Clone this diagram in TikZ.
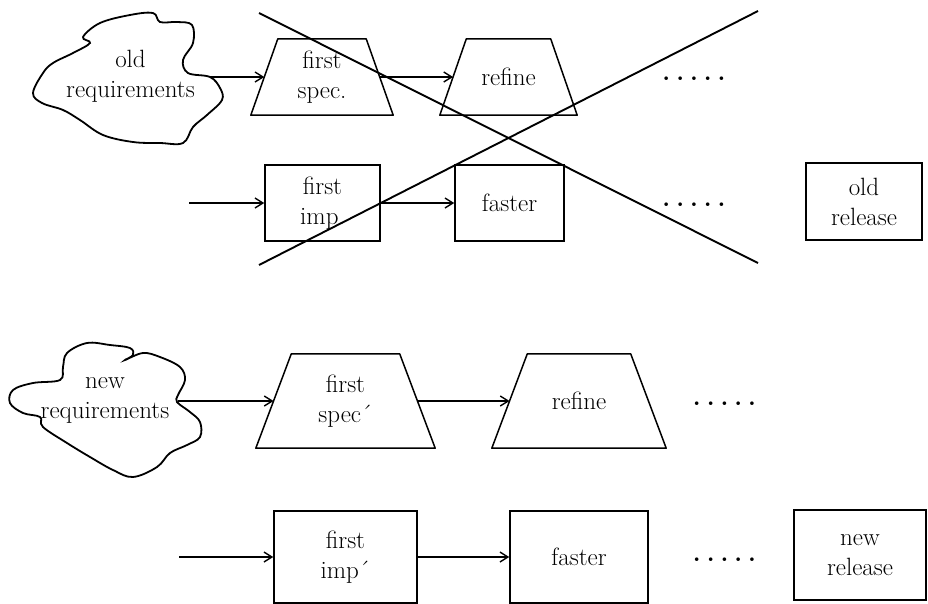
\documentclass[tikz,border=0pt]{standalone}
\usetikzlibrary{arrows.meta,calc}
\newcommand{\dotfive}{.\hspace{6pt}.\hspace{6pt}.\hspace{6pt}.\hspace{6pt}.}
\begin{document}
\begin{tikzpicture}[x=1pt,y=-1pt,
  lbl/.style={font=\fontsize{25}{30}\selectfont, align=center, inner sep=0pt},
  box/.style={lbl, draw, line width=1.5pt},
  trapline/.style={line width=1.5pt, line join=round},
  flow/.style={line width=1.4pt, -{Straight Barb[length=8pt,width=10pt]}},
  cross/.style={line width=1.9pt},
  blob/.style={line width=1.8pt},
  dotrow/.style={font=\fontsize{25}{30}\selectfont\bfseries, inner sep=0pt}]
\useasboundingbox (0,0) rectangle (928,603);

% clouds
\draw[blob] plot[smooth cycle, tension=0.6] coordinates {(83,37) (100,23) (130,15) (153,13) (160,22) (177,22) (192,25) (193,43) (183,60) (188,73) (210,77) (220,88) (222,100) (207,115) (193,127) (183,143) (160,143) (133,142) (103,135) (80,120) (63,110) (42,103) (33,93) (43,73) (53,63) (73,53) (90,43)};
\node[lbl] (oldreq) at (130.5,76) {old\\requirements};
\coordinate (oldout) at (210,77);

\draw[blob] plot[smooth cycle, tension=0.6] coordinates {(67,353) (87,343) (110,345) (130,348) (133,355) (125,360) (143,353) (160,357) (180,367) (185,380) (178,395) (177,402) (190,412) (200,422) (200,437) (187,445) (170,453) (157,467) (133,477) (113,470) (90,457) (67,443) (43,427) (40,417) (23,413) (10,403) (13,390) (33,383) (60,380) (63,367)};
\node[lbl] (newreq) at (105,400) {new\\requirements};
\coordinate (newout) at (178,401);

% trapezoid bodies
\node[lbl, minimum width=115pt, minimum height=76pt] (fs1) at (322,77) {first\\spec.};
\node[lbl, minimum width=110.5pt, minimum height=76pt] (rf1) at (508.5,77) {refine};
\node[lbl, minimum width=143.5pt, minimum height=94pt] (fs2) at (345.5,401) {first\\spec´};
\node[lbl, minimum width=138.5pt, minimum height=94pt] (rf2) at (579,401) {refine};
\foreach \n/\d in {fs1/13.5, rf1/13.25, fs2/17.75, rf2/17.75}
  \draw[trapline] ($(\n.south west)+(-\d pt,0)$) -- ($(\n.north west)+(\d pt,0)$) -- ($(\n.north east)+(-\d pt,0)$) -- ($(\n.south east)+(\d pt,0)$) -- cycle;

% boxes
\node[box, minimum width=115pt, minimum height=76pt] (fi1) at (322.5,203) {first\\imp.};
\node[box, minimum width=109pt, minimum height=76pt] (fa1) at (509.5,203) {faster};
\node[box, minimum width=116pt, minimum height=77pt] (or1) at (864,201.5) {old\\release};
\node[box, minimum width=143pt, minimum height=92pt] (fi2) at (345.5,557) {first\\imp´};
\node[box, minimum width=138pt, minimum height=92pt] (fa2) at (579,557) {faster};
\node[box, minimum width=132pt, minimum height=90pt] (nr2) at (860,555) {new\\release};

% dots
\node[dotrow] (d1) at (694,79) {\dotfive};
\node[dotrow] (d2) at (694,205) {\dotfive};
\node[dotrow] (d3) at (724.5,404) {\dotfive};
\node[dotrow] (d4) at (724.5,560) {\dotfive};

% free starts
\coordinate (in1) at (189,203);
\coordinate (in2) at (179,557);

% connectors
\draw[flow] (oldout) -- (fs1);
\draw[flow] (fs1) -- (rf1);
\draw[flow] (in1) -- (fi1);
\draw[flow] (fi1) -- (fa1);
\draw[flow] (newout) -- (fs2);
\draw[flow] (fs2) -- (rf2);
\draw[flow] (in2) -- (fi2);
\draw[flow] (fi2) -- (fa2);

% crossing-out lines
\coordinate (xa) at (259,13);
\coordinate (xb) at (758,263);
\coordinate (xc) at (259,265);
\coordinate (xd) at (758,11);
\draw[cross] (xa) -- (xb);
\draw[cross] (xc) -- (xd);
\end{tikzpicture}
\end{document}
